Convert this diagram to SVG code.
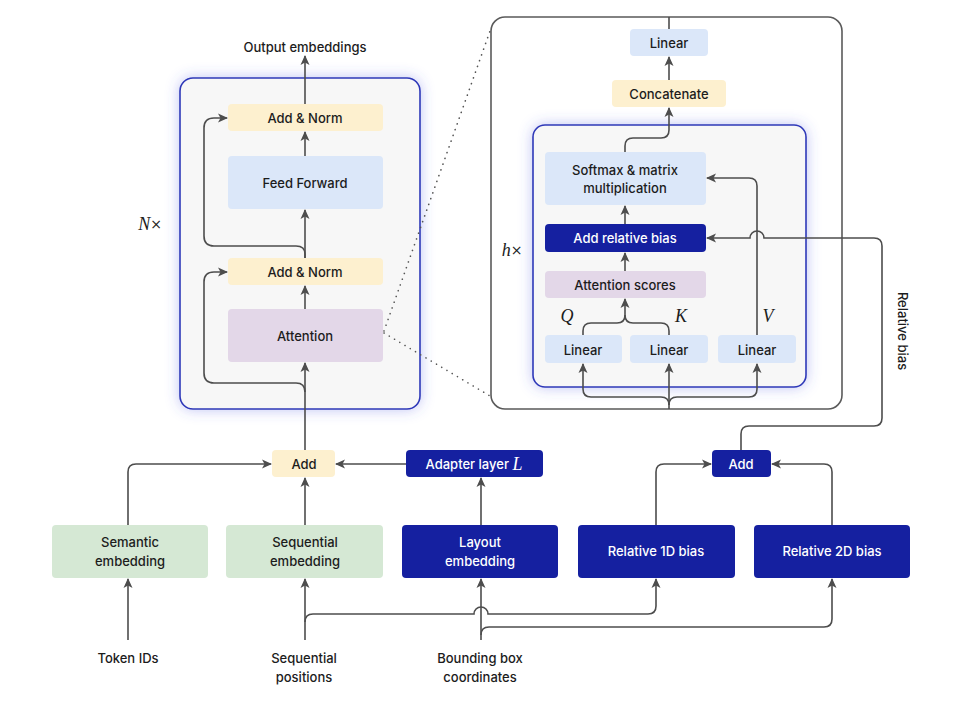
<svg xmlns="http://www.w3.org/2000/svg" width="958" height="724" viewBox="0 0 958 724">
  <defs>
    <marker id="arrow" markerUnits="userSpaceOnUse" markerWidth="10" markerHeight="10" refX="9" refY="5" orient="auto">
      <path d="M0,0.5 L10,5 L0,9.5 L2.5,5 z" fill="#4d4d4d"/>
    </marker>
    <filter id="glow" x="-20%" y="-20%" width="140%" height="140%">
      <feDropShadow dx="0" dy="0" stdDeviation="7" flood-color="#4a52e0" flood-opacity="0.35"/>
    </filter>
    <style>
      text { font-family: Inter, "Noto Sans", "Liberation Sans", sans-serif; font-size: 13px; font-weight: 500; fill: #1c1c1c; text-anchor: middle; dominant-baseline: central; }
      .light { fill: #ffffff; }
      .math { font-family: "Liberation Serif", "DejaVu Serif", serif; font-style: italic; font-size: 18px; font-weight: 400; }
      .times { font-family: "DejaVu Sans", sans-serif; font-style: normal; font-size: 14px; font-weight: 400; }
      .yellow { fill: #fdf0cf; }
      .blue { fill: #dbe7f9; }
      .purple { fill: #e3d7e8; }
      .green { fill: #d5e8d4; }
      .dark { fill: #1520a0; }
      .frame { fill: #f7f7f7; stroke: #2f38b8; stroke-width: 1.6; }
      .conn { fill: none; stroke: #4d4d4d; stroke-width: 1.6; }
      .arr { marker-end: url(#arrow); }
      .dots { fill: none; stroke: #555; stroke-width: 1.6; stroke-dasharray: 0.1 6; stroke-linecap: round; }
    </style>
  </defs>

  <!-- outer frames -->
  <g id="encoder-block">
    <rect x="180" y="78" width="240" height="331" rx="13" class="frame" filter="url(#glow)"/>
    <text x="150" y="224"><tspan class="math">N</tspan><tspan class="times">×</tspan></text>
  </g>
  <g id="attention-detail">
    <rect x="491" y="17" width="351" height="392" rx="14" fill="#ffffff" stroke="#5a5a5a" stroke-width="1.6"/>
  </g>
  <g id="head-block">
    <rect x="533" y="125" width="273" height="262" rx="12" class="frame" filter="url(#glow)"/>
    <text x="512" y="250"><tspan class="math">h</tspan><tspan class="times">×</tspan></text>
  </g>

  <!-- encoder nodes -->
  <g id="add-norm-2"><rect x="228" y="104" width="155" height="27" rx="4" class="yellow"/><text x="305" y="118">Add &amp; Norm</text></g>
  <g id="feed-forward"><rect x="228" y="156" width="155" height="53" rx="4" class="blue"/><text x="305" y="183">Feed Forward</text></g>
  <g id="add-norm-1"><rect x="228" y="258" width="155" height="27" rx="4" class="yellow"/><text x="305" y="272">Add &amp; Norm</text></g>
  <g id="attention"><rect x="228" y="309" width="155" height="53" rx="4" class="purple"/><text x="305" y="336">Attention</text></g>
  <g id="output-label"><text x="305" y="47">Output embeddings</text></g>

  <!-- attention detail nodes -->
  <g id="linear-out"><rect x="630" y="29" width="78" height="27" rx="4" class="blue"/><text x="669" y="43">Linear</text></g>
  <g id="concatenate"><rect x="612" y="80" width="114" height="27" rx="4" class="yellow"/><text x="669" y="94">Concatenate</text></g>
  <g id="softmax"><rect x="545" y="152" width="161" height="53" rx="4" class="blue"/><text x="625" y="170">Softmax &amp; matrix</text><text x="625" y="188">multiplication</text></g>
  <g id="add-relative-bias"><rect x="545" y="224" width="161" height="28" rx="4" class="dark"/><text x="625" y="238" class="light">Add relative bias</text></g>
  <g id="attention-scores"><rect x="545" y="271" width="161" height="27" rx="4" class="purple"/><text x="625" y="285">Attention scores</text></g>
  <g id="linear-q"><rect x="545" y="335" width="77" height="28" rx="4" class="blue"/><text x="583" y="350">Linear</text></g>
  <g id="linear-k"><rect x="630" y="335" width="78" height="28" rx="4" class="blue"/><text x="669" y="350">Linear</text></g>
  <g id="linear-v"><rect x="718" y="335" width="78" height="28" rx="4" class="blue"/><text x="757" y="350">Linear</text></g>
  <g id="qkv-labels">
    <text x="567" y="316" class="math">Q</text>
    <text x="681" y="316" class="math">K</text>
    <text x="768" y="316" class="math">V</text>
  </g>
  <g id="relative-bias-label"><text x="0" y="0" transform="translate(903,331) rotate(90)">Relative bias</text></g>

  <!-- input side nodes -->
  <g id="add-embed"><rect x="272" y="450" width="63" height="27" rx="4" class="yellow"/><text x="304" y="464">Add</text></g>
  <g id="adapter-layer"><rect x="406" y="450" width="137" height="27" rx="4" class="dark"/><text x="474" y="464" class="light">Adapter layer <tspan class="math light" font-size="16">L</tspan></text></g>
  <g id="add-bias"><rect x="712" y="450" width="59" height="27" rx="4" class="dark"/><text x="741" y="464" class="light">Add</text></g>
  <g id="semantic-embedding"><rect x="52" y="525" width="156" height="53" rx="4" class="green"/><text x="130" y="542">Semantic</text><text x="130" y="561">embedding</text></g>
  <g id="sequential-embedding"><rect x="226" y="525" width="157" height="53" rx="4" class="green"/><text x="305" y="542">Sequential</text><text x="305" y="561">embedding</text></g>
  <g id="layout-embedding"><rect x="402" y="525" width="156" height="53" rx="4" class="dark"/><text x="480" y="542" class="light">Layout</text><text x="480" y="561" class="light">embedding</text></g>
  <g id="relative-1d-bias"><rect x="578" y="525" width="157" height="53" rx="4" class="dark"/><text x="656" y="551" class="light">Relative 1D bias</text></g>
  <g id="relative-2d-bias"><rect x="754" y="525" width="156" height="53" rx="4" class="dark"/><text x="832" y="551" class="light">Relative 2D bias</text></g>
  <g id="token-ids"><text x="128" y="658">Token IDs</text></g>
  <g id="sequential-positions"><text x="304" y="658">Sequential</text><text x="304" y="677">positions</text></g>
  <g id="bounding-box"><text x="480" y="658">Bounding box</text><text x="480" y="677">coordinates</text></g>

  <!-- connectors -->
  <g id="connectors">
    <!-- zoom guides -->
    <path class="dots" d="M384,331 L490,31"/>
    <path class="dots" d="M384,333 L490,396"/>

    <!-- encoder -->
    <path class="conn arr" d="M305,104 V56"/>
    <path class="conn arr" d="M305,156 V132"/>
    <path class="conn arr" d="M305,258 V210"/>
    <path class="conn arr" d="M305,309 V286"/>
    <path class="conn arr" d="M305,450 V363"/>
    <path class="conn arr" d="M305,258 V254 Q305,246 296,246 H214 Q204,246 204,236 V128 Q204,118 214,118 H227"/>
    <path class="conn arr" d="M305,392 Q305,383 296,383 H214 Q204,383 204,373 V282 Q204,272 214,272 H227"/>

    <!-- attention detail -->
    <path class="conn" d="M669,29 V17"/>
    <path class="conn arr" d="M669,80 V57"/>
    <path class="conn arr" d="M625,152 V146 Q625,138 633,138 H661 Q669,138 669,130 V108"/>
    <path class="conn arr" d="M625,224 V206"/>
    <path class="conn arr" d="M625,271 V253"/>
    <path class="conn arr" d="M583,335 V331 Q583,323 591,323 H617 Q625,323 625,315 V299"/>
    <path class="conn" d="M669,335 V331 Q669,323 661,323 H633 Q625,323 625,315"/>
    <path class="conn arr" d="M757,335 V186 Q757,178 749,178 H707"/>
    <path class="conn arr" d="M669,409 V364"/>
    <path class="conn arr" d="M669,405 Q669,397 661,397 H591 Q583,397 583,389 V364"/>
    <path class="conn arr" d="M669,405 Q669,397 677,397 H749 Q757,397 757,389 V364"/>
    <path class="conn arr" d="M741,450 V434 Q741,426 749,426 H874 Q882,426 882,418 V246 Q882,238 874,238 H764 A7,7 0 0 0 750,238 H707"/>

    <!-- input side -->
    <path class="conn arr" d="M406,464 H336"/>
    <path class="conn arr" d="M128,525 V472 Q128,464 136,464 H271"/>
    <path class="conn arr" d="M305,525 V478"/>
    <path class="conn arr" d="M481,525 V478"/>
    <path class="conn arr" d="M656,525 V472 Q656,464 664,464 H711"/>
    <path class="conn arr" d="M832,525 V472 Q832,464 824,464 H772"/>
    <path class="conn arr" d="M128,640 V579"/>
    <path class="conn arr" d="M305,640 V579"/>
    <path class="conn arr" d="M481,640 V579"/>
    <path class="conn arr" d="M305,622 Q305,614 313,614 H474 A7,7 0 0 1 488,614 H648 Q656,614 656,606 V579"/>
    <path class="conn arr" d="M481,635 Q481,627 489,627 H824 Q832,627 832,619 V579"/>
  </g>
</svg>
